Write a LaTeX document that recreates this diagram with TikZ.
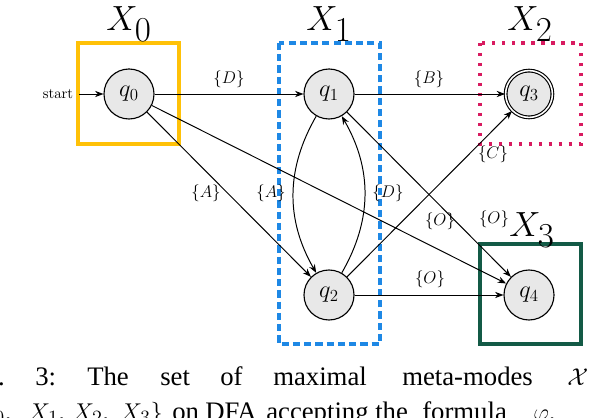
\documentclass[tikz,border=0pt]{standalone}
\usepackage{fontspec}
\newfontfamily\capfont{Liberation Serif}
\usetikzlibrary{arrows.meta}
\definecolor{cOrange}{HTML}{FFC107}
\definecolor{cBlue}{HTML}{1E88E5}
\definecolor{cPink}{HTML}{D81B60}
\definecolor{cGreen}{HTML}{135A46}
\begin{document}
\begin{tikzpicture}[x=0.025cm,y=-0.025cm,
  mystate/.style={circle, draw, fill=gray!18, minimum size=1.25cm, inner sep=0pt, line width=0.8pt, font=\fontsize{18}{18}\selectfont},
  accstate/.style={mystate, double, double distance=1.1pt, minimum size=1.17cm},
  edge/.style={-{Stealth[length=6pt,width=4.5pt]}, line width=0.7pt},
  lbl/.style={font=\fontsize{12.5}{12.5}\selectfont, inner sep=0pt},
  big/.style={font=\fontsize{36}{36}\selectfont, anchor=base, inner sep=0pt},
  capw/.style={font=\capfont\fontsize{19}{19}\selectfont, anchor=base west, inner sep=0pt},
  cape/.style={font=\capfont\fontsize{19}{19}\selectfont, anchor=base east, inner sep=0pt},
  boxline/.style={line width=2.2pt}
]
\useasboundingbox (0,0) rectangle (590,418);
\clip (0,0) rectangle (590,418);

% meta-mode boxes
\draw[boxline, cOrange] (78,43) rectangle (179,144);
\draw[boxline, cBlue, dash pattern=on 5pt off 3pt] (279,43) rectangle (380,344);
\draw[boxline, cPink, dash pattern=on 2.2pt off 4.9pt] (480,43) rectangle (581,144);
\draw[boxline, cGreen] (480,244) rectangle (581,344);

\node[big] (X0) at (129,31) {$X_0$};
\node[big] (X1) at (329,31) {$X_1$};
\node[big] (X2) at (530,31) {$X_2$};
\node[big] (X3) at (532,237) {$X_3$};

% states
\node[mystate] (q0) at (129,94) {$q_0$};
\node[mystate] (q1) at (329,94) {$q_1$};
\node[accstate] (q3) at (529,94) {$q_3$};
\node[mystate] (q2) at (329,295) {$q_2$};
\node[mystate] (q4) at (529,295) {$q_4$};

\node[font=\fontsize{10.5}{10.5}\selectfont, inner sep=0pt] (startlbl) at (58,94) {start};
\coordinate (start) at (79,94);

% transitions
\draw[edge] (start) -- (q0);
\draw[edge] (q0) -- (q1);
\draw[edge] (q1) -- (q3);
\draw[edge] (q0) -- (q2);
\draw[edge] (q0) -- (q4);
\draw[edge] (q1) to[bend right=30] (q2);
\draw[edge] (q2) to[bend right=30] (q1);
\draw[edge] (q2) -- (q3);
\draw[edge] (q1) -- (q4);
\draw[edge] (q2) -- (q4);

% labels
\node[lbl] (lD1) at (229,79) {$\{D\}$};
\node[lbl] (lB) at (429,79) {$\{B\}$};
\node[lbl] (lA1) at (206,193) {$\{A\}$};
\node[lbl] (lA2) at (271,193) {$\{A\}$};
\node[lbl] (lD2) at (388,193) {$\{D\}$};
\node[lbl] (lC) at (493,154) {$\{C\}$};
\node[lbl] (lO1) at (440,221) {$\{O\}$};
\node[lbl] (lO2) at (494,219) {$\{O\}$};
\node[lbl] (lO3) at (430,279) {$\{O\}$};

% caption (cropped)
\node[cape] (c0) at (5,385) {Fig.};
\node[capw] (c1) at (35,385) {3:};
\node[capw] (c2) at (87,385) {The};
\node[capw] (c3) at (160,385) {set};
\node[capw] (c4) at (220,385) {of};
\node[capw] (c5) at (273,385) {maximal};
\node[capw] (c6) at (402,385) {meta-modes};
\node[capw] (c7) at (567,385) {$\mathcal{X}$};
\node[cape] (d0) at (12,420) {$\{X_0$,};
\node[capw] (d1) at (28,420) {$X_1$,};
\node[capw] (d2) at (72,420) {$X_2$,};
\node[capw] (d3) at (120,420) {$X_3\}$};
\node[capw] (d4) at (172,420) {on};
\node[capw] (d5) at (205,420) {DFA};
\node[capw] (d6) at (266,420) {accepting};
\node[capw] (d7) at (375,420) {the};
\node[capw] (d8) at (422,420) {formula};
\node[capw] (d9) at (533,420) {$\varphi$.};
\end{tikzpicture}
\end{document}
